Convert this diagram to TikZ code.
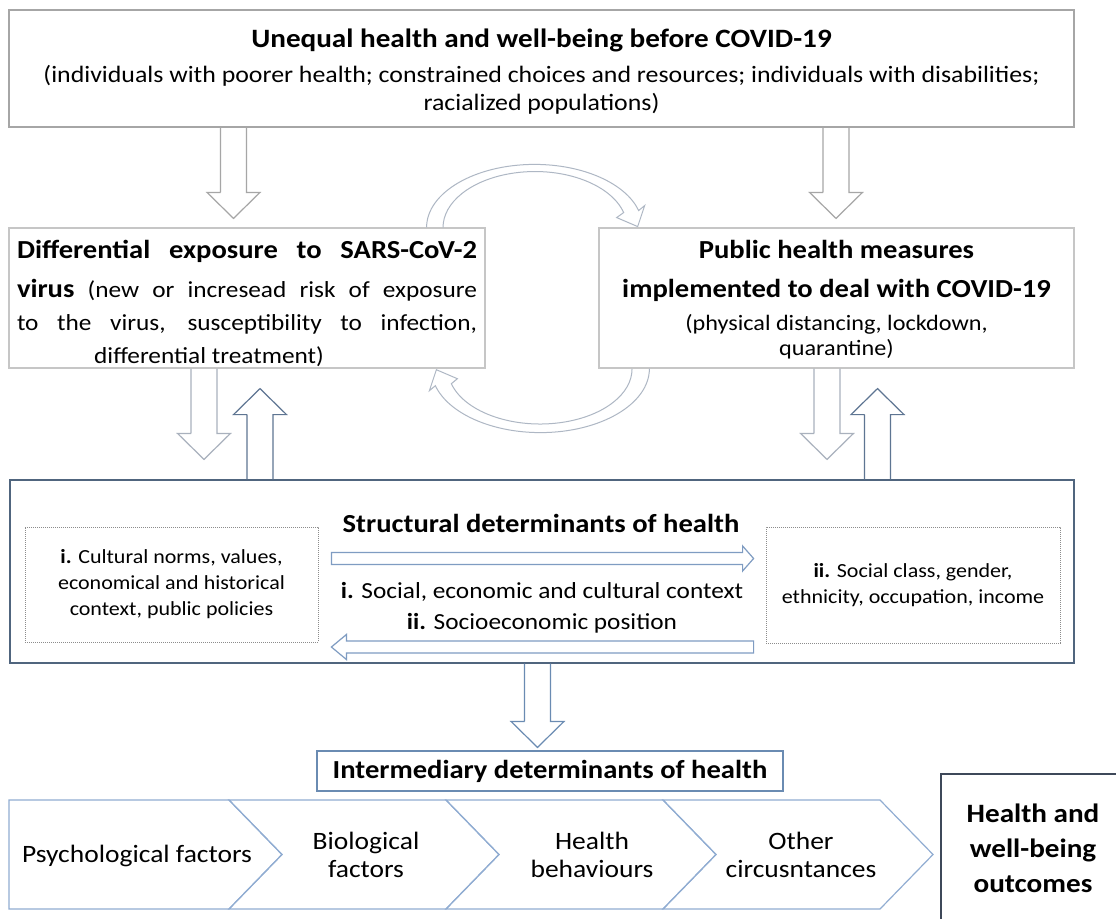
\documentclass[tikz,border=0pt]{standalone}
\usepackage{fontspec}
\setmainfont{Carlito}[FakeStretch=1.1]
\usetikzlibrary{calc}

\definecolor{boxgray}{HTML}{A6A6A6}
\definecolor{palegray}{HTML}{C6C6C6}
\definecolor{slate}{HTML}{50657E}
\definecolor{steel}{HTML}{7F9CC2}
\definecolor{arrgray}{HTML}{A9B1BD}
\definecolor{arrblue}{HTML}{5E7592}
\definecolor{curvgray}{HTML}{AEB7C4}
\definecolor{chevblue}{HTML}{91ADD2}
\definecolor{interblue}{HTML}{6A8BB2}
\definecolor{darkslate}{HTML}{3E4859}
\definecolor{dotgray}{HTML}{8C8C8C}

%% hollow block arrows (vertical: from, to, gap before the target)
\newcommand\vblockarr[4]{%
  \draw[#1] let \p1=(#2), \p2=(#3), \n1={sign(\y1-(\y2))}, \n2={\y2+\n1*#4} in
    (\x1-13pt,\n2+\n1*26) -- (\x1-13pt,\y1) (\x1-13pt,\n2+\n1*26) -- (\x1-26.5pt,\n2+\n1*26)
    -- (\x1,\n2) -- (\x1+26.5pt,\n2+\n1*26) -- (\x1+13pt,\n2+\n1*26)
    -- (\x1+13pt,\y1);}
%% horizontal: from, to, head length
\newcommand\hblockarr[4]{%
  \draw[#1] let \p1=(#2), \p2=(#3), \n1={sign(\x1-(\x2))} in
    (\x1,\y1+6pt) -- (\x2+\n1*#4,\y1+6pt) -- (\x2+\n1*#4,\y1+12.5pt) -- (\x2,\y1)
    -- (\x2+\n1*#4,\y1-12.5pt) -- (\x2+\n1*#4,\y1-6pt) -- (\x1,\y1-6pt) -- cycle;}

\begin{document}
\begin{tikzpicture}[x=1pt,y=-1pt,line width=1.2pt,
    box/.style={draw,inner sep=0pt,align=center},
    grayarr/.style={draw=boxgray},
    lightarr/.style={draw=arrgray},
    bluearr/.style={draw=arrblue},
    midarr/.style={draw=interblue},
    innerarr/.style={draw=steel},
    curvarr/.style={draw=curvgray,line width=1pt},
    chev/.style={draw=chevblue},
    chevtext/.style={align=center,font=\fontsize{25}{28}\selectfont},
    dotbox/.style={box,draw=dotgray,line width=0.8pt,dash pattern=on 0.8pt off 1.2pt,
      font=\fontsize{20}{26}\selectfont}]
  \fill[white] (0,0) rectangle (1116,918);
  \useasboundingbox (0,0) rectangle (1116,918);
  %% top
  \node[box,draw=boxgray,minimum width=1065pt,minimum height=117pt] (top) at (541.5,68.5) {};
  \node[align=center,font=\fontsize{23.5}{28}\selectfont] (toptxt) at (541.5,72)
    {{\fontsize{26.5}{28}\selectfont\bfseries Unequal health and well-being before COVID-19}\\[7pt]
     (individuals with poorer health; constrained choices and resources; individuals with disabilities;\\
     racialized populations)};
  %% middle
  \node[box,draw=palegray,minimum width=476pt,minimum height=140pt] (expo) at (247,298) {};
  \node[align=center,font=\fontsize{23}{33}\selectfont] (expotxt) at (247,303)
    {\makebox[460pt][s]{\fontsize{26}{33}\selectfont\bfseries Differential exposure to SARS-CoV-2}\\[6pt]
     \makebox[460pt][s]{{\fontsize{26}{33}\selectfont\bfseries virus} (new or incresead risk of exposure}\\
     \makebox[460pt][s]{to the virus, susceptibility to infection,}\\
     differential treatment)\hspace*{76pt}};
  \node[box,draw=palegray,minimum width=475pt,minimum height=140pt] (meas) at (836.5,298) {};
  \node[align=center,font=\fontsize{22}{25}\selectfont] (meastxt) at (836.5,300)
    {{\fontsize{26}{25}\selectfont\bfseries Public health measures}\\[14pt]
     {\fontsize{26}{25}\selectfont\bfseries implemented to deal with COVID-19}\\[8pt]
     (physical distancing, lockdown,\\
     quarantine)};
  %% structural
  \node[box,draw=slate,minimum width=1064pt,minimum height=183pt] (struct) at (542,571.5) {};
  \node[dotbox,minimum width=293pt,minimum height=115pt] (cult) at (171.5,584.5)
    {\textbf{i.} Cultural norms, values,\\economical and historical\\context, public policies};
  \node[dotbox,minimum width=294pt,minimum height=116pt] (soc) at (913,585)
    {\textbf{ii.} Social class, gender,\\ethnicity, occupation, income};
  \node[font=\fontsize{26}{30}\selectfont\bfseries] (stitle) at (541,523)
    {Structural determinants of health};
  \node[align=center,font=\fontsize{23}{31}\selectfont] (sctx) at (542,607.5)
    {\textbf{i.} Social, economic and cultural context\\\textbf{ii.} Socioeconomic position};
  \hblockarr{innerarr}{$(cult.east)+(13,-26)$}{$(soc.west)+(-12,-26)$}{11}
  \hblockarr{innerarr}{$(soc.west)+(-12,62)$}{$(cult.east)+(13,62)$}{15}
  %% intermediary
  \node[box,draw=interblue,minimum width=466pt,minimum height=40pt,
    font=\fontsize{26}{30}\selectfont\bfseries] (inter) at (550,771)
    {Intermediary determinants of health};
  \draw[chev] (9,800) -- (229,800) -- (282,854.5) -- (229,909) -- (9,909) -- cycle;
  \draw[chev] (229,800) -- (446,800) -- (499,854.5) -- (446,909) -- (229,909) -- (282,854.5) -- cycle;
  \draw[chev] (446,800) -- (663,800) -- (716,854.5) -- (663,909) -- (446,909) -- (499,854.5) -- cycle;
  \draw[chev] (663,800) -- (880,800) -- (933,854.5) -- (880,909) -- (663,909) -- (716,854.5) -- cycle;
  \node[chevtext] (psy) at (137,856) {Psychological factors};
  \node[chevtext] (bio) at (366,855) {Biological\\factors};
  \node[chevtext] (beh) at (592,855) {Health\\behaviours};
  \node[chevtext] (oth) at (801,855) {Other\\circusntances};
  %% outcome
  \node[box,draw=darkslate,minimum width=184pt,minimum height=148pt,
    font=\fontsize{26.5}{35}\selectfont\bfseries] (outc) at (1033,848)
    {Health and\\well-being\\outcomes};
  %% block arrows
  \vblockarr{grayarr}{top.south -| 233.5,0}{expo.north -| 233.5,0}{9}
  \vblockarr{grayarr}{top.south -| 836,0}{meas.north -| 836,0}{9}
  \vblockarr{lightarr}{expo.south -| 204,0}{struct.north -| 204,0}{20}
  \vblockarr{bluearr}{struct.north -| 260,0}{expo.south -| 260,0}{20}
  \vblockarr{lightarr}{meas.south -| 827,0}{struct.north -| 827,0}{20}
  \vblockarr{bluearr}{struct.north -| 877.5,0}{meas.south -| 877.5,0}{20}
  \vblockarr{midarr}{struct.south -| 537.5,0}{inter.north -| 537.5,0}{3}
  %% curved arrows
  \coordinate (tc) at ($(expo.north east)+(49,0)$);
  \coordinate (bc) at ($(meas.south west)+(-58,0)$);
  \draw[curvarr] ($(tc)+(-108,0)$) arc[start angle=180,end angle=15.5,x radius=108pt,y radius=63pt]
    -- ++(6,-5) -- ++(-7,21) -- ++(-21,-9) -- ++(7,-5)
    arc[start angle=15.5,end angle=180,x radius=92pt,y radius=56pt];
  \draw[curvarr] ($(bc)+(109,0)$) arc[start angle=0,end angle=-164.5,x radius=109pt,y radius=64pt]
    -- ++(-6,5) -- ++(7,-21) -- ++(21,9) -- ++(-6,5)
    arc[start angle=-164.5,end angle=0,x radius=92pt,y radius=55pt];
\end{tikzpicture}
\end{document}
